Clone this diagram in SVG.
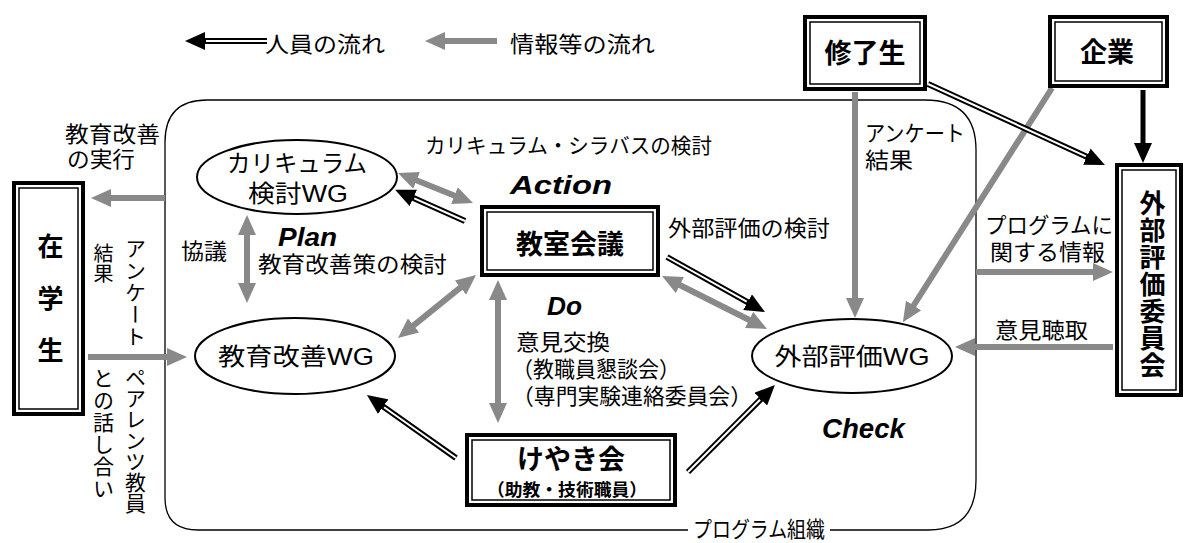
<svg xmlns="http://www.w3.org/2000/svg" width="1184" height="543" viewBox="0 0 1184 543">
<style>
.t{font-family:"Liberation Sans","Noto Sans CJK JP",sans-serif;font-size:21px;fill:#000}
.b{font-weight:bold}
.it{font-weight:bold;font-style:italic;font-size:26px}
.v{writing-mode:vertical-rl}
.g{stroke:#898989;stroke-width:6;fill:none}
.bk{stroke:#000;stroke-width:6;fill:none}
.wh{stroke:#fff;stroke-width:2;fill:none}
.o{fill:#fff;stroke:#000;stroke-width:4}
.i{fill:none;stroke:#000;stroke-width:1.5}
.el{fill:#fff;stroke:#000;stroke-width:2}
</style>
<defs>
<marker id="ga" markerUnits="userSpaceOnUse" markerWidth="20" markerHeight="18" viewBox="0 0 20 18" refX="3" refY="9" orient="auto-start-reverse"><path d="M0,0 L20,9 L0,18 Z" fill="#898989"/></marker>
<marker id="ba" markerUnits="userSpaceOnUse" markerWidth="20" markerHeight="18" viewBox="0 0 20 18" refX="3" refY="9" orient="auto-start-reverse"><path d="M0,0 L20,9 L0,18 Z" fill="#000"/></marker>
</defs>
<rect width="1184" height="543" fill="#fff"/>

<g id="legend">
<path class="bk" d="M267,41 H202" marker-end="url(#ba)"/>
<path class="wh" d="M267,41 H206"/>
<text class="t" x="265" y="52" style="font-size:22px" textLength="120" lengthAdjust="spacingAndGlyphs">人員の流れ</text>
<path class="g" d="M497,41 H442" marker-end="url(#ga)"/>
<text class="t" x="510" y="52" style="font-size:22px" textLength="145" lengthAdjust="spacingAndGlyphs">情報等の流れ</text>
</g>

<g id="program">
<path d="M688,530 H198 Q165,530 165,498 V142 Q165,100 207,100 H925 Q976,100 976,150 V480 Q976,530 928,530 H830" fill="none" stroke="#000" stroke-width="1.3"/>
<text class="t" x="693" y="537" style="font-size:22px" textLength="132" lengthAdjust="spacingAndGlyphs">プログラム組織</text>
</g>

<g id="connectors">
<path class="g" d="M165,198 H108" marker-end="url(#ga)"/>
<path class="g" d="M88,357 H170" marker-end="url(#ga)"/>
<path class="g" d="M247,232 V286" marker-start="url(#ga)" marker-end="url(#ga)"/>
<path class="g" d="M413.8,179.3 L457.2,196.7" marker-start="url(#ga)" marker-end="url(#ga)"/>
<path class="g" d="M411.2,327.3 L462.8,285.7" marker-start="url(#ga)" marker-end="url(#ga)"/>
<path class="g" d="M498,297 V406" marker-start="url(#ga)" marker-end="url(#ga)"/>
<path class="g" d="M677.2,283.7 L751.8,321.3" marker-start="url(#ga)" marker-end="url(#ga)"/>
<path class="g" d="M855,92 V301" marker-end="url(#ga)"/>
<path class="g" d="M1052,88 L912,308" marker-end="url(#ga)"/>
<path class="g" d="M976,272 H1096" marker-end="url(#ga)"/>
<path class="g" d="M1113,347 H972" marker-end="url(#ga)"/>

<path class="bk" d="M465,221 L410.6,196.7" marker-end="url(#ba)"/>
<path class="wh" d="M465,221 L414.3,198.3"/>
<path class="bk" d="M667,257 L750.2,303.7" marker-end="url(#ba)"/>
<path class="wh" d="M667,257 L746.7,301.7"/>
<path class="bk" d="M456,458 L380.8,404.9" marker-end="url(#ba)"/>
<path class="wh" d="M456,458 L384.1,407.2"/>
<path class="bk" d="M688,472 L762.9,397" marker-end="url(#ba)"/>
<path class="wh" d="M688,472 L760.1,399.8"/>
<path class="bk" d="M928,84 L1089.5,157.9" marker-end="url(#ba)"/>
<path class="wh" d="M928,84 L1085.9,156.3"/>
<path d="M1143,90 V146" stroke="#000" stroke-width="5" fill="none" marker-end="url(#ba)"/>
</g>

<g id="labels">
<text class="t" x="65" y="142" style="font-size:22px" textLength="95" lengthAdjust="spacingAndGlyphs">教育改善</text>
<text class="t" x="67" y="167" style="font-size:22px" textLength="68" lengthAdjust="spacingAndGlyphs">の実行</text>
<text class="t v" x="134" y="238" style="font-size:21px" letter-spacing="1">アンケート</text>
<text class="t v" x="102" y="243" style="font-size:20px">結果</text>
<text class="t v" x="134" y="367" style="font-size:21px">ペアレンツ教員</text>
<text class="t v" x="102" y="368" style="font-size:21px" letter-spacing="1">との話し合い</text>
<text class="t" x="181" y="259" style="font-size:22px" textLength="46" lengthAdjust="spacingAndGlyphs">協議</text>
<text class="t it" x="278" y="246" textLength="59" lengthAdjust="spacingAndGlyphs">Plan</text>
<text class="t" x="258" y="272" style="font-size:22px" textLength="189" lengthAdjust="spacingAndGlyphs">教育改善策の検討</text>
<text class="t" x="425" y="153" style="font-size:21px" textLength="287" lengthAdjust="spacingAndGlyphs">カリキュラム・シラバスの検討</text>
<text class="t it" x="510" y="194" textLength="102" lengthAdjust="spacingAndGlyphs">Action</text>
<text class="t" x="668" y="236" style="font-size:22px" textLength="162" lengthAdjust="spacingAndGlyphs">外部評価の検討</text>
<text class="t it" x="547" y="315" textLength="35" lengthAdjust="spacingAndGlyphs">Do</text>
<text class="t" x="516" y="350" style="font-size:22px" textLength="94" lengthAdjust="spacingAndGlyphs">意見交換</text>
<text class="t" x="512" y="377" style="font-size:22px" textLength="168" lengthAdjust="spacingAndGlyphs">（教職員懇談会）</text>
<text class="t" x="512" y="404" style="font-size:22px" textLength="240" lengthAdjust="spacingAndGlyphs">（専門実験連絡委員会）</text>
<text class="t" x="865" y="141" style="font-size:22px" textLength="100" lengthAdjust="spacingAndGlyphs">アンケート</text>
<text class="t" x="865" y="168" style="font-size:22px" textLength="48" lengthAdjust="spacingAndGlyphs">結果</text>
<text class="t" x="985" y="233" style="font-size:22px" textLength="128" lengthAdjust="spacingAndGlyphs">プログラムに</text>
<text class="t" x="990" y="260" style="font-size:22px" textLength="115" lengthAdjust="spacingAndGlyphs">関する情報</text>
<text class="t" x="995" y="338" style="font-size:22px" textLength="93" lengthAdjust="spacingAndGlyphs">意見聴取</text>
<text class="t it" x="822" y="438" style="font-size:27px" textLength="83" lengthAdjust="spacingAndGlyphs">Check</text>
</g>

<g id="node-curriculum">
<ellipse class="el" cx="297" cy="177" rx="100" ry="37"/>
<text class="t" x="297" y="172" style="font-size:24px" text-anchor="middle" textLength="140" lengthAdjust="spacingAndGlyphs">カリキュラム</text>
<text class="t" x="298" y="202" style="font-size:24px" text-anchor="middle" textLength="100" lengthAdjust="spacingAndGlyphs">検討WG</text>
</g>
<g id="node-kyoiku">
<ellipse class="el" cx="295" cy="356" rx="100" ry="38"/>
<text class="t" x="296" y="365" style="font-size:24px" text-anchor="middle" textLength="156" lengthAdjust="spacingAndGlyphs">教育改善WG</text>
</g>
<g id="node-gaibu-wg">
<ellipse class="el" cx="852" cy="356" rx="100" ry="37"/>
<text class="t" x="852" y="365" style="font-size:24px" text-anchor="middle" textLength="155" lengthAdjust="spacingAndGlyphs">外部評価WG</text>
</g>
<g id="node-kyoshitsu">
<rect class="o" x="482" y="207" width="176" height="68"/>
<rect class="i" x="487" y="212" width="166" height="58"/>
<text class="t b" x="570" y="254" style="font-size:27px" text-anchor="middle">教室会議</text>
</g>
<g id="node-keyaki">
<rect class="o" x="467" y="435" width="208" height="70"/>
<rect class="i" x="472" y="440" width="198" height="60"/>
<text class="t b" x="571" y="469" style="font-size:27px" text-anchor="middle">けやき会</text>
<text class="t b" x="567" y="496" style="font-size:17.5px" text-anchor="middle" textLength="160" lengthAdjust="spacingAndGlyphs">（助教・技術職員）</text>
</g>
<g id="node-shuryo">
<rect class="o" x="805" y="17" width="120" height="72"/>
<rect class="i" x="810" y="22" width="110" height="62"/>
<text class="t b" x="865" y="63" style="font-size:27px" text-anchor="middle">修了生</text>
</g>
<g id="node-kigyo">
<rect class="o" x="1050" y="17" width="117" height="69"/>
<rect class="i" x="1055" y="22" width="107" height="59"/>
<text class="t b" x="1107" y="62" style="font-size:27px" text-anchor="middle">企業</text>
</g>
<g id="node-iinkai">
<rect class="o" x="1117" y="165" width="64" height="230"/>
<rect class="i" x="1122" y="170" width="54" height="220"/>
<text class="t b v" x="1150" y="190" style="font-size:26px" letter-spacing="1">外部評価委員会</text>
</g>
<g id="node-zaigaku">
<rect class="o" x="14" y="183" width="69" height="231"/>
<rect class="i" x="19" y="188" width="59" height="221"/>
<text class="t b v" x="48" y="233" style="font-size:26px" letter-spacing="26">在学生</text>
</g>
</svg>
